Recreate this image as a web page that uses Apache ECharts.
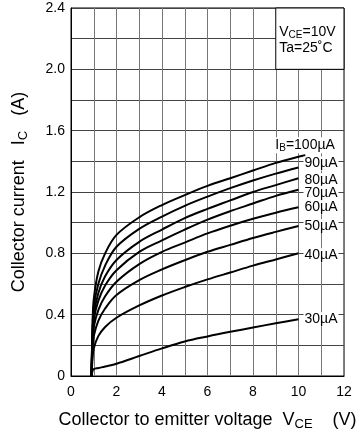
<!DOCTYPE html>
<html>
<head>
<meta charset="utf-8">
<script src="https://cdn.jsdelivr.net/npm/echarts@6/dist/echarts.min.js"></script>
<style>
  html, body { margin: 0; padding: 0; background: #fff; }
  #chart { width: 361px; height: 436px; }
</style>
</head>
<body>
<div id="chart"></div>
<script>
// collector voltage points (V) shared by the curves
const vPoints = [0.9, 0.95, 1.0, 1.2, 1.5, 2, 3, 4, 5, 6, 7, 8, 9, 10]

// collector current (A) for each base current
const ib100 = [0, 0.35, 0.5, 0.68, 0.8, 0.92, 1.035, 1.115, 1.18, 1.24, 1.29, 1.34, 1.39, 1.43]
const ib90 = [0, 0.32, 0.45, 0.6, 0.72, 0.843, 0.96, 1.04, 1.11, 1.17, 1.225, 1.275, 1.32, 1.36]
const ib80 = [0, 0.28, 0.4, 0.54, 0.65, 0.757, 0.875, 0.955, 1.03, 1.09, 1.145, 1.2, 1.245, 1.29]
const ib70 = [0, 0.26, 0.37, 0.49, 0.59, 0.69, 0.81, 0.885, 0.955, 1.02, 1.075, 1.125, 1.175, 1.215]
const ib60 = [0, 0.23, 0.32, 0.43, 0.52, 0.615, 0.73, 0.81, 0.87, 0.93, 0.98, 1.025, 1.065, 1.1]
const ib50 = [0, 0.18, 0.26, 0.36, 0.44, 0.528, 0.625, 0.695, 0.755, 0.81, 0.855, 0.9, 0.94, 0.978]
const ib40 = [0, 0.12, 0.18, 0.26, 0.32, 0.38, 0.46, 0.525, 0.58, 0.63, 0.675, 0.72, 0.76, 0.8]
const ib30 = [0, 0.035, 0.045, 0.052, 0.062, 0.08, 0.13, 0.18, 0.225, 0.258, 0.288, 0.316, 0.344, 0.37]

// the 100uA curve runs a little past 10 V
const ib100Tail = [[10.3, 1.44]]

const curveNames = ['I{sub|B}=100µA', '90µA', '80µA', '70µA', '60µA', '50µA', '40µA', '30µA']
const curveValues = [ib100, ib90, ib80, ib70, ib60, ib50, ib40, ib30]

// label nudges so the tags sit where the datasheet put them
const labelOffsets = [[-36, -10], [0, -4], [0, 2], [0, 3], [0, 0], [0, 0], [0, 2], [0, 0]]

const chart = echarts.init(document.getElementById('chart'), null, { renderer: 'canvas' })

const fontFamily = '"Liberation Sans", Arial, sans-serif'
const subStyle = { fontSize: 10, padding: [6, 0, 0, 0], fontFamily: fontFamily, color: '#000' }
const titleSub = Object.assign({}, subStyle, { fontSize: 13, padding: [8, 0, 0, 0] })

const series = curveValues.map((vals, k) => {
  let data = vPoints.map((v, i) => [v, vals[i]])
  if (k === 0) data = data.concat(ib100Tail)
  return {
    name: curveNames[k],
    type: 'line',
    data: data,
    smooth: 0.35,
    symbol: 'none',
    lineStyle: { color: '#000', width: 2 },
    z: 3,
    endLabel: {
      show: true,
      formatter: curveNames[k],
      distance: 5,
      offset: labelOffsets[k],
      color: '#000',
      fontSize: 14,
      fontFamily: fontFamily,
      backgroundColor: '#fff',
      padding: [0, 1, 0, 1],
      rich: { sub: subStyle }
    }
  }
})

// condition box in the top right corner
series.push({
  type: 'line',
  data: [],
  markArea: {
    silent: true,
    itemStyle: { color: '#fff', borderColor: '#000', borderWidth: 1 },
    label: {
      show: true,
      position: 'insideTopLeft',
      distance: 4,
      padding: [13, 0, 0, 0],
      formatter: 'V{sub|CE}=10V\nTa=25˚C',
      color: '#000',
      fontSize: 14,
      lineHeight: 16,
      fontFamily: fontFamily,
      rich: { sub: Object.assign({}, subStyle, { lineHeight: 16 }) }
    },
    data: [[{ coord: [9, 2.0] }, { coord: [12, 2.4] }]]
  },
  z: 2
})

const option = {
  animation: false,
  backgroundColor: '#fff',
  textStyle: { fontFamily: fontFamily },
  grid: {
    left: 71,
    top: 8,
    right: 17,
    bottom: 60,
    show: true,
    borderColor: '#000',
    borderWidth: 1
  },
  xAxis: {
    type: 'value',
    min: 0,
    max: 12,
    interval: 1,
    axisLine: { show: true, lineStyle: { color: '#000' } },
    axisTick: { show: false },
    axisLabel: {
      color: '#000',
      fontSize: 14,
      margin: 9,
      formatter: v => (v % 2 === 0 ? String(v) : '')
    },
    splitLine: { show: true, lineStyle: { color: '#777', width: 1 } },
    name: 'Collector to emitter voltage  V{sub|CE}    (V)',
    nameLocation: 'middle',
    nameGap: 34,
    nameTextStyle: { color: '#000', fontSize: 18, rich: { sub: titleSub } }
  },
  yAxis: {
    type: 'value',
    min: 0,
    max: 2.4,
    interval: 0.2,
    axisLine: { show: true, lineStyle: { color: '#000' } },
    axisTick: { show: false },
    axisLabel: {
      color: '#000',
      fontSize: 14,
      margin: 6,
      formatter: v => {
        const t = Math.round(v * 10)
        if (t % 4 !== 0) return ''
        return t === 0 ? '0' : v.toFixed(1)
      }
    },
    splitLine: { show: true, lineStyle: { color: '#444', width: 1 } },
    name: 'Collector current   I{sub|C}   (A)',
    nameLocation: 'middle',
    nameGap: 41,
    nameTextStyle: { color: '#000', fontSize: 18, rich: { sub: titleSub } }
  },
  series: series
}

chart.setOption(option)
</script>
</body>
</html>
